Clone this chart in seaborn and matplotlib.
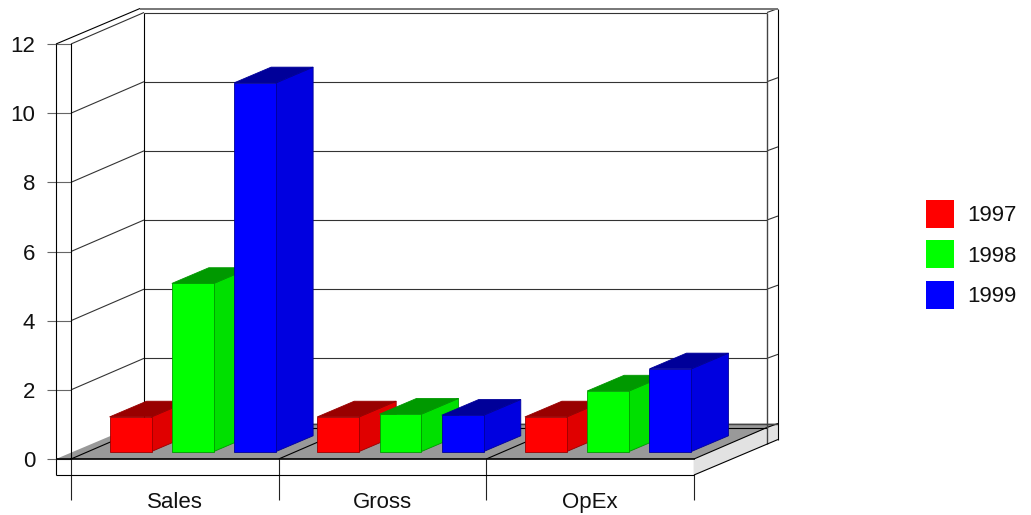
import matplotlib
matplotlib.use("Agg")
import matplotlib.pyplot as plt
from matplotlib.patches import Polygon
from matplotlib.transforms import IdentityTransform
import pandas as pd
import seaborn as sns

# Chart data
categories = ["Sales", "Gross", "OpEx"]
years = ["1997", "1998", "1999"]
values_1997 = [1.0, 1.0, 1.0]
values_1998 = [4.86, 1.08, 1.75]
values_1999 = [10.66, 1.05, 2.39]
y_ticks = [0, 2, 4, 6, 8, 10, 12]

# Face colours for each series
front_colors = ["#ff0000", "#00ff00", "#0000ff"]
side_colors = ["#e00000", "#00e000", "#0000e0"]
top_colors = ["#990000", "#009900", "#000099"]

W, H, DPI = 1031, 515, 100
sns.set_theme(style="white")
plt.rcParams["font.family"] = ["Liberation Sans", "DejaVu Sans"]
FONT = 16

fig = plt.figure(figsize=(W / DPI, H / DPI), dpi=DPI, facecolor="white")


def axes_rect(left, right, bottom, top):
    """Axes rectangle from pixel edges measured from the top-left corner."""
    return [left / W, (H - bottom) / H, (right - left) / W, (bottom - top) / H]


# Front plane of the box: carries the value scale and the category labels
front = fig.add_axes(axes_rect(71, 694, 459, 44), facecolor="none", zorder=1)
front.set_xlim(-0.5, 2.5)
front.set_ylim(0, 12)
for name in ("top", "right"):
    front.spines[name].set_visible(False)
front.spines["left"].set_color("black")
front.spines["left"].set_linewidth(0.8)
front.spines["bottom"].set_color("black")
front.spines["bottom"].set_linewidth(1.2)
front.set_yticks(y_ticks)
front.set_yticklabels([str(t) for t in y_ticks], fontsize=FONT, color="#111111")
front.tick_params(axis="y", left=True, length=17.3, width=0.8, color="#666666", pad=8.5)
front.set_xticks(range(len(categories)))
front.set_xticklabels(categories, fontsize=FONT, color="#111111")
front.tick_params(axis="x", which="major", bottom=False, length=0, pad=23.9)
front.set_xticks([-0.5, 0.5, 1.5, 2.5], minor=True)
front.tick_params(axis="x", which="minor", bottom=True, length=29.5, width=0.8, color="#222222")


def px(x, v, dx=0.0, dy=0.0):
    """Display position of a front-plane point pushed back by a pixel offset."""
    xd, yd = front.transData.transform((x, v))
    return xd + dx, yd + dy


def line(p, q, color="black", lw=0.8):
    front.plot([p[0], q[0]], [p[1], q[1]], color=color, lw=lw,
               transform=IdentityTransform(), clip_on=False, solid_capstyle="butt")


def face(points, color):
    front.add_patch(Polygon(points, closed=True, facecolor=color, edgecolor="none",
                            transform=IdentityTransform(), clip_on=False))


L, R = -0.5, 2.5
BACK = (73, 31.5)        # inner back wall
OUTER = (84, 35.5)       # outer shell depth
SHELL = -15              # shell thickness to the left
PLATE = -16              # height of the base plate

# Floor and the lit side of the base plate
face([px(L, 0, SHELL), px(R, 0), px(R, 0, *OUTER), px(L, 0, SHELL + OUTER[0], OUTER[1])], "#999999")
face([px(R, 0), px(R, 0, *OUTER), px(R, 0, OUTER[0], OUTER[1] + PLATE), px(R, 0, 0, PLATE)], "#e2e2e2")

# Grid lines running over the left wall, back wall and right wall
for t in y_ticks:
    c = "black" if t == 0 else "#333333"
    line(px(L, t), px(L, t, *BACK), c)
    line(px(L, t, *BACK), px(R, t, *BACK), c)
    line(px(R, t, *BACK), px(R, t, *OUTER), c)

# Floor divisions between categories
for b in (0.5, 1.5, 2.5):
    line(px(b, 0), px(b, 0, *BACK))

# Outer shell edges
line(px(L, 0, SHELL), px(L, 12, SHELL))
line(px(L, 0, SHELL, PLATE), px(R, 0, 0, PLATE))
line(px(L, 0, SHELL, PLATE), px(L, 0, SHELL))
line(px(L, 0, SHELL), px(L, 0), lw=1.2)
line(px(L, 12, SHELL), px(L, 12, SHELL + OUTER[0], OUTER[1]))
line(px(L, 12, SHELL + OUTER[0], OUTER[1]), px(R, 12, *OUTER), "#777777", 1.4)
line(px(L, 0, SHELL + OUTER[0], OUTER[1]), px(R, 0, *OUTER), "#444444", 1.0)
line(px(L, 0, *BACK), px(L, 12, *BACK))
line(px(R, 0, BACK[0], BACK[1] + PLATE), px(R, 12, *BACK), "#444444", 1.0)
line(px(R, 0, OUTER[0], OUTER[1] + PLATE), px(R, 12, *OUTER))
line(px(R, 0, 0, PLATE), px(R, 0, OUTER[0], OUTER[1] + PLATE))

# Bars sit a little way into the box, so they get their own shifted scale
bars_ax = fig.add_axes(axes_rect(89, 712, 451.5, 36.5), facecolor="none", zorder=2)
table = pd.DataFrame({
    "category": categories * 3,
    "year": [y for y in years for _ in categories],
    "value": values_1997 + values_1998 + values_1999,
})
sns.barplot(data=table, x="category", y="value", hue="year", order=categories,
            hue_order=years, palette=front_colors, width=0.9, gap=0.326,
            saturation=1, ax=bars_ax)
bars_ax.set_xlim(-0.5, 2.5)
bars_ax.set_ylim(0, 12)
bars_ax.axis("off")

# Depth of a bar in data units
depth_x = 37 / (623 / 3)
depth_y = 15.7 / (415 / 12)

# Extrude every bar; left-to-right stacking keeps nearer faces on top
rects = []
for series, container in enumerate(bars_ax.containers):
    for rect in container:
        rects.append((rect, series))
rects.sort(key=lambda item: item[0].get_x())
for order, (rect, series) in enumerate(rects):
    x0 = rect.get_x()
    x1 = x0 + rect.get_width()
    h = rect.get_height()
    z = 3 + order
    rect.set_zorder(z + 0.5)
    rect.set_edgecolor(top_colors[series])
    rect.set_linewidth(0.6)
    bars_ax.add_patch(Polygon(
        [(x1, 0), (x1 + depth_x, depth_y), (x1 + depth_x, h + depth_y), (x1, h)],
        closed=True, facecolor=side_colors[series], edgecolor=top_colors[series],
        linewidth=0.6, zorder=z, clip_on=False))
    bars_ax.add_patch(Polygon(
        [(x0, h), (x1, h), (x1 + depth_x, h + depth_y), (x0 + depth_x, h + depth_y)],
        closed=True, facecolor=top_colors[series], edgecolor=top_colors[series],
        linewidth=0.6, zorder=z, clip_on=False))
    rect.set_clip_on(False)

# Legend squares and year labels on the right
SQUARE_PT = 20.16
handles, labels = bars_ax.get_legend_handles_labels()
for handle in handles:
    handle.set_edgecolor("none")
if bars_ax.get_legend() is not None:
    bars_ax.get_legend().remove()
fig.legend(handles, labels, loc="upper left", bbox_to_anchor=(926 / W, (H - 200) / H),
           frameon=False, fontsize=FONT, borderpad=0, borderaxespad=0,
           handlelength=SQUARE_PT / FONT, handleheight=1.56, handletextpad=0.6,
           labelspacing=0.563, labelcolor="#111111")

fig.savefig("out.png", dpi=DPI, facecolor="white")
